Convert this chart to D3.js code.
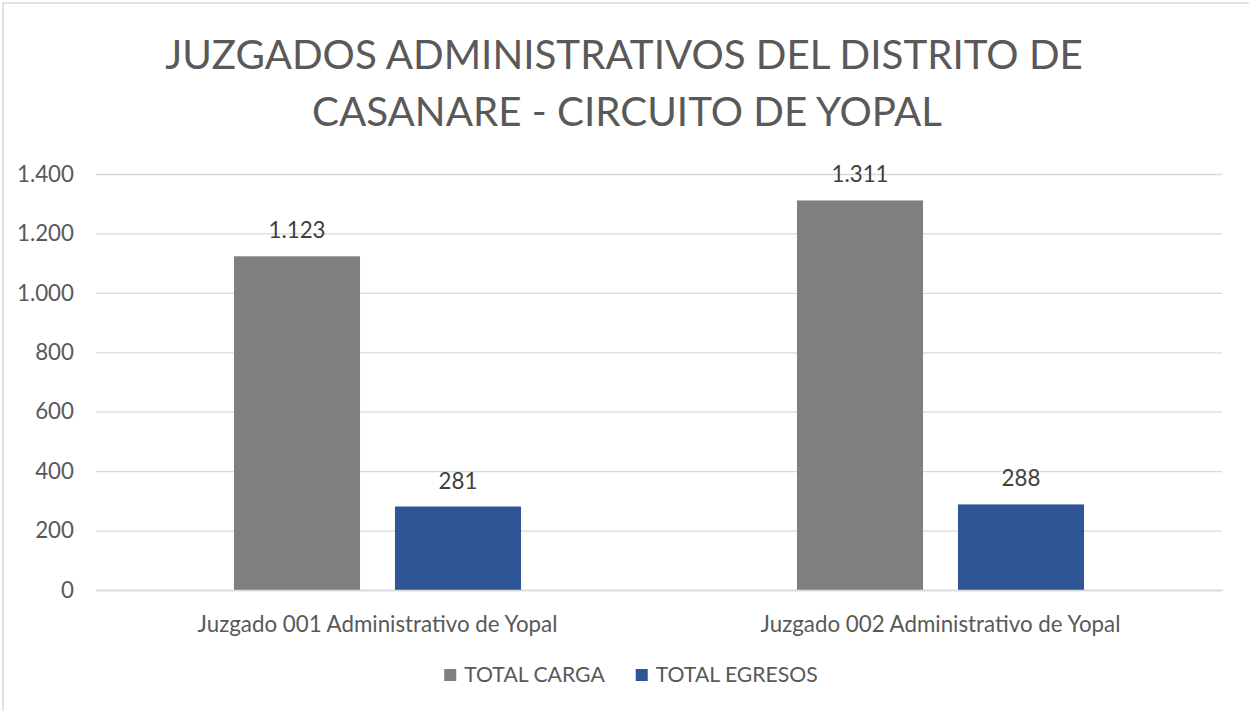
<!DOCTYPE html>
<html>
<head>
<meta charset="utf-8">
<script src="https://cdn.jsdelivr.net/npm/d3@7"></script>
<style>
  html, body { margin: 0; padding: 0; background: #ffffff; }
  svg { display: block; }
</style>
</head>
<body>
<script>
// ---- data ----
const titleLines = ["JUZGADOS ADMINISTRATIVOS DEL DISTRITO DE", "CASANARE - CIRCUITO DE YOPAL"];
const categories = ["Juzgado 001 Administrativo de Yopal", "Juzgado 002 Administrativo de Yopal"];
const seriesNames = ["TOTAL CARGA", "TOTAL EGRESOS"];
const totalCarga = [1123, 1311];
const totalEgresos = [281, 288];
const yTicks = [0, 200, 400, 600, 800, 1000, 1200, 1400];
const seriesColors = ["#7f7f7f", "#2f5597"];

// ---- setup ----
const W = 1249, H = 711;
const font = "Lato, 'Open Sans', sans-serif";
const textColor = "#595959";
const svg = d3.select("body").append("svg").attr("width", W).attr("height", H);

svg.append("rect").attr("x", 0).attr("y", 0).attr("width", W).attr("height", H).attr("fill", "#fff");
// chart frame
svg.append("rect").attr("x", 3).attr("y", 3).attr("width", W + 10).attr("height", H + 10)
  .attr("fill", "none").attr("stroke", "#d9d9d9").attr("stroke-width", 1.5);

const loc = d3.formatLocale({decimal: ",", thousands: ".", grouping: [3], currency: ["$", ""]});
const fmt = loc.format(",d");

function fitWidth(sel, target) {
  const w = sel.node().getComputedTextLength();
  const fs = parseFloat(sel.attr("font-size"));
  sel.attr("font-size", fs * target / w);
  return fs * target / w;
}

// ---- title ----
const t1 = svg.append("text").attr("x", 624).attr("y", 69).attr("text-anchor", "middle")
  .attr("font-family", font).attr("font-size", 40).attr("fill", textColor).text(titleLines[0]);
const titleSize = fitWidth(t1, 918);
svg.append("text").attr("x", 627).attr("y", 126).attr("text-anchor", "middle")
  .attr("font-family", font).attr("font-size", titleSize).attr("fill", textColor).text(titleLines[1]);

// ---- scales ----
const plot = {left: 96, right: 1222, top: 174, bottom: 590};
const y = d3.scaleLinear().domain([0, 1400]).range([plot.bottom, plot.top]);
const x0 = d3.scaleBand().domain(categories).range([plot.left, plot.right]).paddingInner(0).paddingOuter(0);
const x1 = d3.scaleBand().domain(seriesNames).range([0, x0.bandwidth()]).paddingInner(0.217).paddingOuter(0.857);

// label font size fitted from category label width
const probe = svg.append("text").attr("font-family", font).attr("font-size", 20).text(categories[0]);
const labelSize = fitWidth(probe, 360);
probe.remove();

// ---- gridlines + y axis ----
const yAxis = d3.axisLeft(y).tickValues(yTicks).tickFormat(fmt).tickSize(-(plot.right - plot.left)).tickPadding(22);
const gy = svg.append("g").attr("transform", `translate(${plot.left},0)`).call(yAxis);
gy.select(".domain").remove();
gy.selectAll(".tick line").attr("stroke", "#d9d9d9").attr("stroke-width", 1.3);
gy.selectAll(".tick text").attr("font-family", font).attr("font-size", labelSize).attr("fill", textColor);

// ---- bars ----
const rows = categories.map((c, i) => ({cat: c, vals: [
  {s: seriesNames[0], v: totalCarga[i], c: seriesColors[0]},
  {s: seriesNames[1], v: totalEgresos[i], c: seriesColors[1]}
]}));

const groups = svg.append("g").selectAll("g").data(rows).join("g")
  .attr("transform", d => `translate(${x0(d.cat)},0)`);

groups.selectAll("rect").data(d => d.vals).join("rect")
  .attr("x", d => x1(d.s)).attr("width", x1.bandwidth())
  .attr("y", d => y(d.v)).attr("height", d => y(0) - y(d.v))
  .attr("fill", d => d.c);

groups.selectAll("text.lbl").data(d => d.vals).join("text").attr("class", "lbl")
  .attr("x", d => x1(d.s) + x1.bandwidth() / 2).attr("y", d => y(d.v) - 18)
  .attr("text-anchor", "middle").attr("font-family", font).attr("font-size", labelSize)
  .attr("fill", "#404040").text(d => fmt(d.v));

// ---- x axis labels ----
const xAxis = d3.axisBottom(x0).tickSize(0).tickPadding(26);
const gx = svg.append("g").attr("transform", `translate(0,${plot.bottom})`).call(xAxis);
gx.select(".domain").attr("stroke", "#d9d9d9").attr("stroke-width", 1.3);
gx.selectAll(".tick text").attr("font-family", font).attr("font-size", labelSize).attr("fill", textColor);

// ---- legend ----
const legend = svg.append("g");
const items = legend.selectAll("g").data(seriesNames).join("g");
items.append("rect").attr("width", 12).attr("height", 12).attr("y", 669)
  .attr("fill", (d, i) => seriesColors[i]);
items.append("text").attr("y", 682).attr("font-family", font).attr("font-size", labelSize * 0.95)
  .attr("fill", textColor).text(d => d);
let widths = [];
items.each(function() { widths.push(d3.select(this).select("text").node().getComputedTextLength()); });
const sq = 12, gap = 8, between = 31;
const total = widths.reduce((a, w) => a + sq + gap + w, 0) + between * (widths.length - 1);
let cx = 631 - total / 2;
items.each(function(d, i) {
  const g = d3.select(this);
  g.select("rect").attr("x", cx);
  g.select("text").attr("x", cx + sq + gap);
  cx += sq + gap + widths[i] + between;
});
</script>
</body>
</html>
